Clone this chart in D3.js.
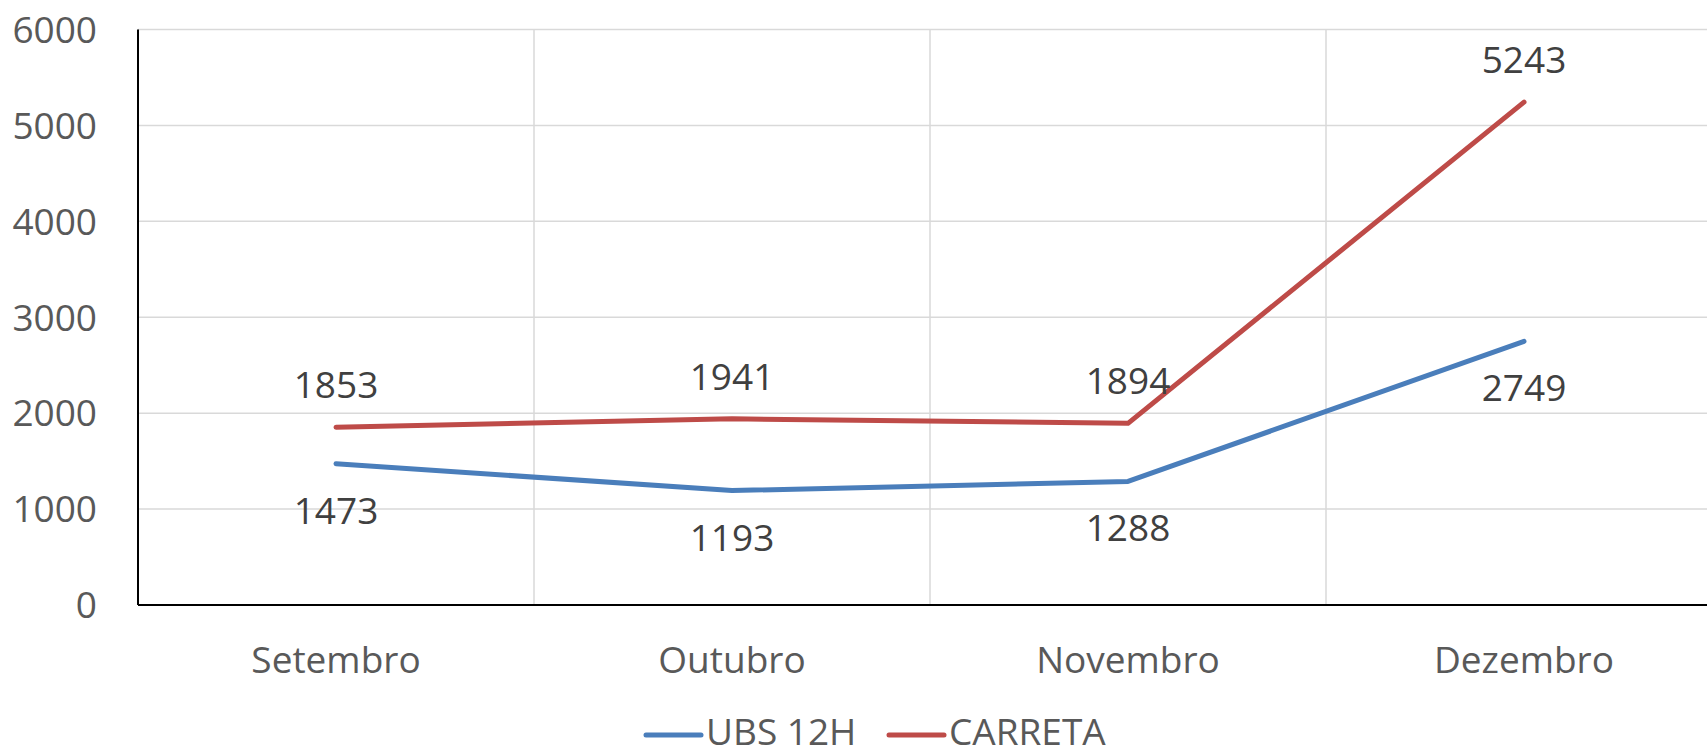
<!DOCTYPE html>
<html>
<head>
<meta charset="utf-8">
<script src="https://cdn.jsdelivr.net/npm/d3@7"></script>
<style>
    body { margin: 0; background: #fff; }
    svg { display: block; font-family: "Open Sans", "Noto Sans", sans-serif; }
</style>
</head>
<body>
<svg id="chart" width="1707" height="751"></svg>
<script>
// chart data
var months = ['Setembro', 'Outubro', 'Novembro', 'Dezembro'];
var ubs = [1473, 1193, 1288, 2749];
var carreta = [1853, 1941, 1894, 5243];
var yTicks = [0, 1000, 2000, 3000, 4000, 5000, 6000];
var seriesNames = ['UBS 12H', 'CARRETA'];
var seriesColors = ['#4a7ebb', '#be4b48'];

var svg = d3.select('#chart'),
    plotLeft = 138,
    bandW = 396,
    plotTop = 29.5,
    plotBottom = 605;

var x = d3.scaleBand().domain(months).range([plotLeft, plotLeft + bandW * months.length]);
var y = d3.scaleLinear().domain([0, 6000]).range([plotBottom, plotTop]);

// horizontal grid
svg.append('g').selectAll('line').data(yTicks.slice(1))
    .enter().append('line')
    .attr('x1', plotLeft).attr('x2', 1707)
    .attr('y1', function (d) { return y(d); })
    .attr('y2', function (d) { return y(d); })
    .attr('stroke', '#d9d9d9').attr('stroke-width', 1.5);

// vertical grid between categories
svg.append('g').selectAll('line').data(months.slice(1))
    .enter().append('line')
    .attr('x1', function (d) { return x(d); })
    .attr('x2', function (d) { return x(d); })
    .attr('y1', plotTop).attr('y2', plotBottom)
    .attr('stroke', '#d9d9d9').attr('stroke-width', 1.5);

// axes lines
svg.append('line').attr('x1', plotLeft).attr('x2', plotLeft).attr('y1', plotTop).attr('y2', plotBottom)
    .attr('stroke', '#000').attr('stroke-width', 2);
svg.append('line').attr('x1', plotLeft).attr('x2', 1707).attr('y1', plotBottom).attr('y2', plotBottom)
    .attr('stroke', '#000').attr('stroke-width', 2);

// y tick labels
svg.append('g').selectAll('text').data(yTicks)
    .enter().append('text')
    .attr('x', 97)
    .attr('y', function (d) { return y(d); })
    .attr('dy', '0.36em')
    .attr('text-anchor', 'end')
    .attr('font-size', 37)
    .attr('fill', '#595959')
    .text(function (d) { return d; });

// x labels
svg.append('g').selectAll('text').data(months)
    .enter().append('text')
    .attr('x', function (d) { return x(d) + x.bandwidth() / 2; })
    .attr('y', 673)
    .attr('text-anchor', 'middle')
    .attr('font-size', 37)
    .attr('fill', '#595959')
    .text(function (d) { return d; });

var line = d3.line()
    .x(function (d, i) { return x(months[i]) + x.bandwidth() / 2; })
    .y(function (d) { return y(d); });

// series lines and labels (ubs below, carreta above)
[ubs, carreta].forEach(function (vals, k) {
    svg.append('path')
        .datum(vals)
        .attr('d', line)
        .attr('fill', 'none')
        .attr('stroke', seriesColors[k])
        .attr('stroke-width', 5)
        .attr('stroke-linecap', 'round')
        .attr('stroke-linejoin', 'round');

    svg.append('g').selectAll('text').data(vals)
        .enter().append('text')
        .attr('x', function (d, i) { return x(months[i]) + x.bandwidth() / 2; })
        .attr('y', function (d) { return k === 0 ? y(d) + 60 : y(d) - 29; })
        .attr('text-anchor', 'middle')
        .attr('font-size', 37)
        .attr('fill', '#404040')
        .text(function (d) { return d; });
});

// legend
var legendX = [646, 889];
seriesNames.forEach(function (name, k) {
    var g = svg.append('g').attr('transform', 'translate(' + legendX[k] + ',735)');
    g.append('line').attr('x1', 0).attr('x2', 55).attr('y1', 0).attr('y2', 0)
        .attr('stroke', seriesColors[k]).attr('stroke-width', 5).attr('stroke-linecap', 'round');
    g.append('text').attr('x', 60).attr('y', 0).attr('dy', '0.27em')
        .attr('font-size', 37).attr('fill', '#595959').text(name);
});
</script>
</body>
</html>
